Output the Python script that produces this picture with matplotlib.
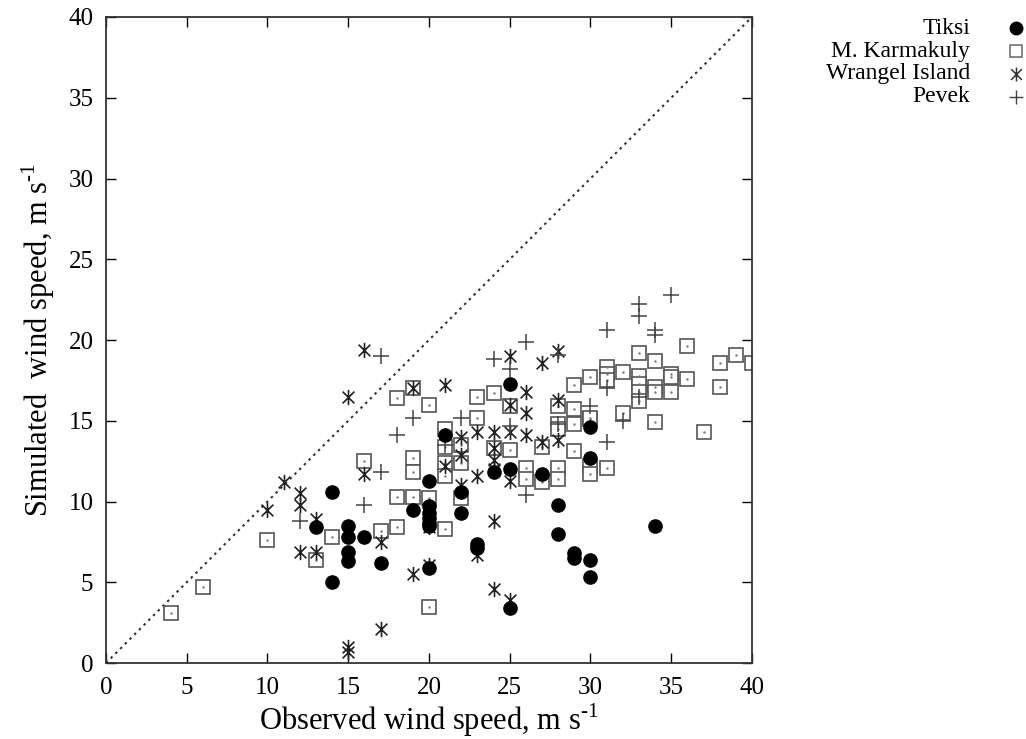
import matplotlib
matplotlib.use("Agg")
import matplotlib.pyplot as plt
from matplotlib.path import Path
from matplotlib.lines import Line2D

plt.rcParams['font.family'] = ['Liberation Serif', 'DejaVu Serif']
plt.rcParams['mathtext.fontset'] = 'custom'
plt.rcParams['mathtext.rm'] = 'Liberation Serif'

# observed / simulated wind speed (m/s) per station
tiksi_obs = [13, 14, 14, 15, 15, 15, 15, 16, 17, 19, 20, 20, 20, 20, 20, 20, 20,
             21, 22, 22, 23, 23, 24, 25, 25, 25, 27, 28, 28, 29, 29, 30, 30, 30, 30, 34]
tiksi_sim = [8.4, 10.6, 5.0, 8.5, 7.8, 6.9, 6.3, 7.8, 6.2, 9.5, 11.3, 9.7, 9.3, 9.0, 8.7, 8.5, 5.9,
             14.1, 10.6, 9.3, 7.4, 7.1, 11.8, 17.3, 12.0, 3.4, 11.7, 9.8, 8.0, 6.8, 6.5, 14.6, 12.7, 6.4, 5.3, 8.5]

karm_obs = [4, 6, 10, 13, 14, 16, 17, 18, 18, 18, 19, 19, 19, 19, 20, 20, 20,
            21, 21, 21, 21, 21, 22, 22, 22, 23, 23, 24, 24, 25, 25, 26, 26, 27, 27,
            28, 28, 28, 28, 28, 29, 29, 29, 29, 30, 30, 30, 30, 30, 31, 31, 31, 31,
            32, 32, 33, 33, 33, 33, 33, 34, 34, 34, 34, 35, 35, 35, 36, 36, 37, 38, 38, 39, 40]
karm_sim = [3.1, 4.7, 7.6, 6.4, 7.8, 12.5, 8.2, 16.4, 10.3, 8.4, 17.0, 12.7, 11.8, 10.3, 16.0, 10.2, 3.5,
            14.5, 13.4, 12.4, 11.6, 8.3, 13.5, 12.4, 10.2, 16.5, 15.2, 16.7, 13.3, 15.9, 13.2, 12.1, 11.4, 13.4, 11.2,
            15.9, 14.8, 14.5, 12.1, 11.4, 17.2, 15.7, 14.8, 13.1, 17.7, 15.1, 12.2, 11.7, 15.2, 18.3, 17.9, 17.5, 12.1,
            18.0, 15.5, 19.2, 17.8, 17.3, 16.8, 16.2, 18.7, 17.1, 16.8, 14.9, 17.9, 17.7, 16.8, 19.6, 17.6, 14.3, 18.6, 17.1, 19.1, 18.6]

wran_obs = [10, 11, 12, 12, 12, 13, 13, 15, 15, 15, 16, 16, 17, 17, 19, 19, 20, 20,
            21, 21, 22, 22, 22, 23, 23, 23, 24, 24, 24, 24, 24, 24, 25, 25, 25, 25, 25,
            26, 26, 26, 27, 27, 28, 28, 28]
wran_sim = [9.5, 11.2, 10.5, 9.8, 6.9, 8.9, 6.9, 16.5, 1.0, 0.7, 19.4, 11.7, 7.5, 2.1, 17.0, 5.5, 8.4, 6.1,
            17.2, 12.2, 14.0, 12.9, 11.0, 14.3, 11.6, 6.7, 14.3, 13.3, 12.6, 12.0, 8.8, 4.6, 19.0, 16.0, 14.3, 11.3, 3.9,
            16.8, 15.5, 14.1, 18.6, 13.7, 19.3, 16.3, 13.8]

pevek_obs = [12, 16, 17, 17, 18, 19, 21, 22, 24, 25, 25, 26, 26, 28, 28, 30, 31, 31, 31,
             32, 33, 33, 33, 34, 34, 35]
pevek_sim = [8.8, 9.8, 11.8, 19.0, 14.1, 15.2, 13.5, 15.2, 18.8, 18.2, 14.7, 19.9, 10.4, 19.1, 14.8, 15.9, 20.6, 17.0, 13.7,
             15.0, 22.2, 21.5, 16.5, 20.6, 20.3, 22.8]

labels = ['Tiksi', 'M. Karmakuly', 'Wrangel Island', 'Pevek']

# asterisk: x plus vertical bar
star = Path([(-1, -1), (1, 1), (-1, 1), (1, -1), (0, -1.3), (0, 1.3)],
            [Path.MOVETO, Path.LINETO, Path.MOVETO, Path.LINETO, Path.MOVETO, Path.LINETO])

fig = plt.figure(figsize=(10.26, 7.39), dpi=100)
ax = fig.add_axes([0.1033, 0.1028, 0.6296, 0.8742])

ax.plot([0, 40], [0, 40], linestyle=(0, (1.2, 2.0)), color='#333333', lw=1.5, zorder=1)

sq_style = dict(marker='s', ms=9.5, mfc='white', mec='#555555', mew=1.2, ls='none')
ax.plot(karm_obs, karm_sim, **sq_style, zorder=2)
ax.plot(karm_obs, karm_sim, marker='.', ms=1.5, color='#777777', ls='none', zorder=2)
ax.plot(wran_obs, wran_sim, marker=star, ms=11, mec='#222222', mew=1.2, ls='none', zorder=3)
ax.plot(pevek_obs, pevek_sim, marker='+', ms=11, mec='#444444', mew=1.1, ls='none', zorder=3)
ax.plot(tiksi_obs, tiksi_sim, marker='o', ms=9.5, color='black', ls='none', zorder=4)

ax.set_xlim(0, 40)
ax.set_ylim(0, 40)
ax.set_xticks(range(0, 41, 5))
ax.set_yticks(range(0, 41, 5))
ax.tick_params(direction='in', length=7, width=1, labelsize=18, top=True, right=True)
ax.tick_params(axis='y', pad=9)
ax.tick_params(axis='x', pad=10)
for s in ax.spines.values():
    s.set_linewidth(1.3)
    s.set_color('#333333')

ax.set_xlabel(r'Observed wind speed, m s$^{\text{-1}}$', fontsize=22, labelpad=2)
ax.set_ylabel(r'Simulated  wind speed, m s$^{\text{-1}}$', fontsize=22, labelpad=8)

# legend drawn in figure coordinates, text right-aligned, marker on the right
handles = [
    dict(marker='o', ms=9, color='black'),
    dict(marker='s', ms=9, mfc='white', mec='#666666', mew=1.1),
    dict(marker=star, ms=10, mec='#333333', mew=1.1),
    dict(marker='+', ms=10, mec='#444444', mew=1.0),
]
W, H = 1026, 739
for i, (lab, h) in enumerate(zip(labels, handles)):
    ypix = 28 + 23 * i
    fig.text(970 / W, 1 - ypix / H, lab, ha='right', va='center', fontsize=17)
    fig.add_artist(Line2D([1016 / W], [1 - ypix / H], ls='none', **h))

fig.savefig('out.png', dpi=100)
